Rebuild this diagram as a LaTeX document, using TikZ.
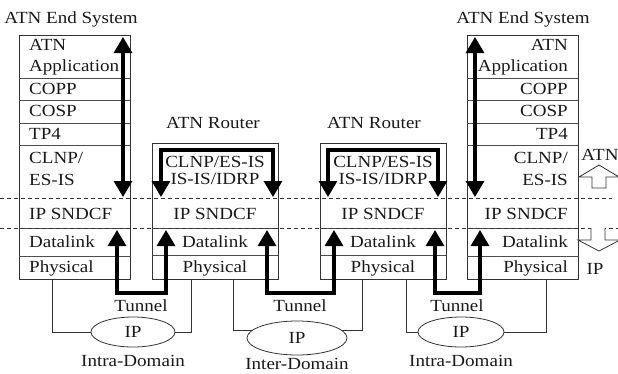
\documentclass[tikz,border=0pt]{standalone}
\usepackage{fontspec}
\setmainfont[FakeStretch=1.12]{Liberation Serif}
\usetikzlibrary{arrows.meta,shapes.geometric}
\begin{document}
\begin{tikzpicture}[x=1pt,y=-1pt,
  lbl/.style={font=\fontsize{17}{18}\selectfont, inner sep=0pt, text=black!90,
              text height=11.2pt, text depth=0pt},
  frame/.style={draw=black!80, line width=0.9pt},
  sep/.style={draw=black!70, line width=0.8pt},
  thin/.style={draw=black!80, line width=0.8pt},
  guide/.style={draw=black!80, line width=0.7pt, dash pattern=on 4pt off 3pt},
  flow/.style={line width=3.2pt, line join=miter,
               {Triangle[width=18pt,length=16pt]}-{Triangle[width=18pt,length=16pt]}},
  cloud/.style={ellipse, draw=black!80, line width=0.8pt, inner sep=0pt},
  hollow/.style={draw=black!80, line width=0.8pt, fill=white, line join=miter}
]
\useasboundingbox (0,0) rectangle (618,373);

% ---------- protocol stacks ----------
% left end system
\draw[frame] (19,35) rectangle (130,279);
\foreach \yy in {78,100,123,145,228,256} \draw[sep] (19,\yy) -- (130,\yy);
% right end system
\draw[frame] (467,35) rectangle (578,279);
\foreach \yy in {78,100,123,145,228,256} \draw[sep] (467,\yy) -- (578,\yy);
% routers
\draw[frame] (152,143) rectangle (278,279);
\foreach \yy in {228,255} \draw[sep] (152,\yy) -- (278,\yy);
\draw[frame] (320,143) rectangle (446,279);
\foreach \yy in {228,255} \draw[sep] (320,\yy) -- (446,\yy);

% ATN / IP boundary lines
\draw[guide] (0,198) -- (612,198);
\draw[guide] (0,228) -- (618,228);

% ---------- titles ----------
\node[lbl] (esL) at (71,18) {ATN End System};
\node[lbl] (esR) at (523,18) {ATN End System};
\node[lbl] (rtA) at (213,123) {ATN Router};
\node[lbl] (rtB) at (374,123) {ATN Router};

% ---------- left end system layers ----------
\begin{scope}[every node/.style={lbl, anchor=west}]
\node (lApp1) at (29,45)  {ATN};
\node (lApp2) at (29,66)  {Application};
\node (lCopp) at (29,89)  {COPP};
\node (lCosp) at (29,111) {COSP};
\node (lTp)   at (29,134) {TP4};
\node (lNet1) at (29,158) {CLNP/};
\node (lNet2) at (29,180) {ES-IS};
\node (lSnd)  at (29,214) {IP SNDCF};
\node (lDl)   at (29,242) {Datalink};
\node (lPhy)  at (29,267) {Physical};
\end{scope}

% ---------- right end system layers ----------
\begin{scope}[every node/.style={lbl, anchor=east}]
\node (rApp1) at (568,45)  {ATN};
\node (rApp2) at (568,66)  {Application};
\node (rCopp) at (568,89)  {COPP};
\node (rCosp) at (568,111) {COSP};
\node (rTp)   at (568,134) {TP4};
\node (rNet1) at (568,158) {CLNP/};
\node (rNet2) at (568,180) {ES-IS};
\node (rSnd)  at (568,214) {IP SNDCF};
\node (rDl)   at (568,242) {Datalink};
\node (rPhy)  at (568,267) {Physical};
\end{scope}

% ---------- router layers ----------
\begin{scope}[every node/.style={lbl}]
\node (aNet1) at (215,162) {CLNP/ES-IS};
\node (aNet2) at (215,179) {IS-IS/IDRP};
\node (aSnd)  at (215,214) {IP SNDCF};
\node (aDl)   at (215,242) {Datalink};
\node (aPhy)  at (215,267) {Physical};
\node (bNet1) at (383,162) {CLNP/ES-IS};
\node (bNet2) at (383,179) {IS-IS/IDRP};
\node (bSnd)  at (383,214) {IP SNDCF};
\node (bDl)   at (383,242) {Datalink};
\node (bPhy)  at (383,267) {Physical};
\end{scope}

% ---------- end-to-end flows ----------
\coordinate (lTop) at (123,37);  \coordinate (lBot) at (123,197);
\coordinate (rTop) at (475,37);  \coordinate (rBot) at (475,197);
\draw[flow] (lTop) -- (lBot);
\draw[flow] (rTop) -- (rBot);

% relaying inside the routers
\coordinate (aIn)  at (161,197); \coordinate (aOut) at (273,197);
\coordinate (bIn)  at (328,197); \coordinate (bOut) at (438,197);
\draw[flow] (aIn) -- ++(0,-47) -| (aOut);
\draw[flow] (bIn) -- ++(0,-47) -| (bOut);

% tunnels between neighbours
\coordinate (tL)  at (117,230); \coordinate (tA1) at (166,230);
\coordinate (tA2) at (267,230); \coordinate (tB1) at (334,230);
\coordinate (tB2) at (435,230); \coordinate (tR)  at (480,230);
\draw[flow] (tL)  -- ++(0,63) -| (tA1);
\draw[flow] (tA2) -- ++(0,63) -| (tB1);
\draw[flow] (tB2) -- ++(0,63) -| (tR);
\node[lbl] (tun1) at (141,306) {Tunnel};
\node[lbl] (tun2) at (300,306) {Tunnel};
\node[lbl] (tun3) at (457,306) {Tunnel};

% ---------- IP networks ----------
\node[cloud, minimum width=84pt, minimum height=30pt] (ipL) at (133,332) {};
\node[cloud, minimum width=100pt, minimum height=34pt] (ipM) at (297,338) {};
\node[cloud, minimum width=86pt, minimum height=30pt] (ipR) at (461,332) {};
\node[lbl] (ipLt) at (ipL) {IP};
\node[lbl] (ipMt) at (ipM) {IP};
\node[lbl] (ipRt) at (ipR) {IP};
\node[lbl] (dL) at (133,361) {Intra-Domain};
\node[lbl] (dM) at (297,364) {Inter-Domain};
\node[lbl] (dR) at (461,361) {Intra-Domain};

% physical attachments
\coordinate (pL)  at (52,279);  \coordinate (pA1) at (191,279);
\coordinate (pA2) at (233,279); \coordinate (pB1) at (362,279);
\coordinate (pB2) at (406,279); \coordinate (pR)  at (546,279);
\draw[thin] (pL)  |- (ipL.west);
\draw[thin] (pA1) |- (ipL.east);
\draw[thin] (pA2) |- (ipM.170);
\draw[thin] (pB1) |- (ipM.10);
\draw[thin] (pB2) |- (ipR.west);
\draw[thin] (pR)  |- (ipR.east);

% ---------- ATN / IP boundary markers ----------
\draw[hollow] (592,188) -- (592,177) -- (579,177) -- (599,165) -- (619,177)
              -- (606,177) -- (606,188) -- cycle;
\draw[hollow] (591,228) -- (591,240) -- (578,240) -- (599,251) -- (620,240)
              -- (605,240) -- (605,228);
\node[lbl] (mAtn) at (600,155) {ATN};
\node[lbl] (mIp)  at (595,269) {IP};
\end{tikzpicture}
\end{document}
